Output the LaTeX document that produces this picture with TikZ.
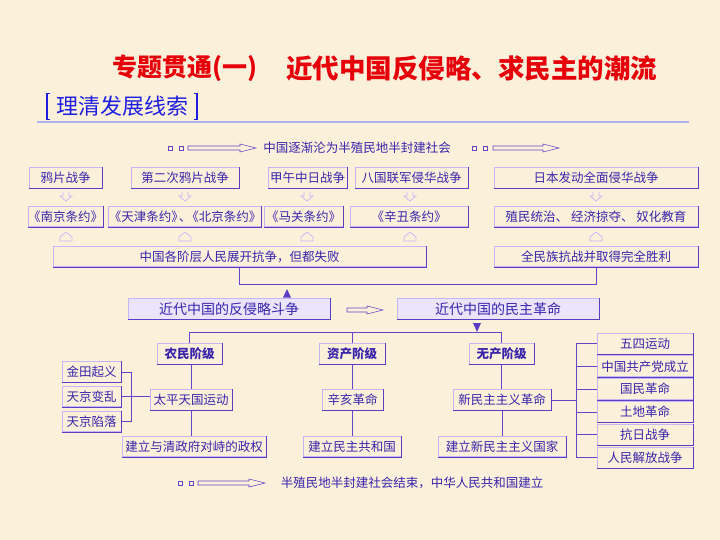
\documentclass[tikz,border=0pt]{standalone}
\usepackage{fontspec}
\newfontfamily\cjk{Noto Sans CJK SC}
\usetikzlibrary{arrows.meta}
\definecolor{bg}{RGB}{251,241,219}
\definecolor{boxlt}{RGB}{196,182,248}
\definecolor{boxdk}{RGB}{92,62,196}
\definecolor{txt}{RGB}{58,36,170}
\definecolor{lnc}{RGB}{96,70,200}
\definecolor{lav}{RGB}{234,228,252}
\definecolor{ttl}{RGB}{230,0,10}
\definecolor{hdb}{RGB}{30,30,225}
\definecolor{hline}{RGB}{176,176,240}
\tikzset{
  bx/.style={draw=boxlt, line width=0.9pt, text=txt, inner sep=0pt, minimum height=20.5pt,
    font=\cjk\fontsize{12.5}{12.5}\selectfont},
  bxt/.style={bx},
  bxb/.style={bx, font=\cjk\bfseries\fontsize{12.5}{12.5}\selectfont},
  bxl/.style={bx, fill=lav, font=\cjk\fontsize{14}{14}\selectfont},
  plain/.style={text=txt, inner sep=0pt, font=\cjk\fontsize{12.5}{12.5}\selectfont},
  conn/.style={draw=lnc, line width=0.8pt},
  hol/.style={draw=boxlt, line width=0.7pt},
  dbl/.style={draw=lnc, line width=0.6pt},
}
\newcommand{\dnarrow}[2]{\draw[hol] (#1-3,#2-4) -- (#1-3,#2) -- (#1-6,#2) -- (#1,#2+5) -- (#1+6,#2) -- (#1+3,#2) -- (#1+3,#2-4);}
\newcommand{\uparrowh}[2]{\draw[hol] (#1-6,#2+4) -- (#1-6,#2) -- (#1,#2-5) -- (#1+6,#2) -- (#1+6,#2+4) -- cycle;}
\newcommand{\dblarrow}[3]{%
  \draw[dbl] (#1,#3-2) -- (#2-16,#3-2) -- (#2-16,#3-4) -- (#2,#3) -- (#2-16,#3+4) -- (#2-16,#3+2) -- (#1,#3+2) -- cycle;}
\newcommand{\sq}[2]{\draw[dbl] (#1-2,#2-2) rectangle (#1+2,#2+2);}
\begin{document}
\begin{tikzpicture}[x=1pt,y=-1pt]
\fill[bg] (0,0) rectangle (720,540);
\useasboundingbox (0,0) rectangle (720,540);
% title
\node[anchor=west, text=ttl, inner sep=0pt, font=\cjk\bfseries\fontsize{25}{25}\selectfont] (t1) at (112,68) {专题贯通(一)};
\node[anchor=west, text=ttl, inner sep=0pt, font=\cjk\bfseries\fontsize{26.5}{26.5}\selectfont] (t2) at (286,68) {近代中国反侵略、求民主的潮流};
\node[anchor=west, text=hdb, inner sep=0pt, font=\cjk\fontsize{22}{22}\selectfont] (hd) at (56,106) {理清发展线索};
\draw[hdb, line width=1.8pt] (50,93.5) -- (47,93.5) -- (47,119.5) -- (50,119.5);
\draw[hdb, line width=1.8pt] (194,93.5) -- (197,93.5) -- (197,119.5) -- (194,119.5);
\draw[hline, line width=1.6pt] (37,122) -- (689,122);
% top arrow row
\sq{170}{148}\sq{181}{148}
\dblarrow{188}{256}{148}
\node[plain] (top) at (357,148) {中国逐渐沦为半殖民地半封建社会};
\sq{474}{148}\sq{485}{148}
\dblarrow{493}{559}{148}
% row 1
\node[bx, minimum width=73pt] (b1) at (65.5,178) {鸦片战争};
\node[bx, minimum width=108pt] (b2) at (185,178) {第二次鸦片战争};
\node[bx, minimum width=79pt] (b3) at (307.5,178) {甲午中日战争};
\node[bx, minimum width=113pt] (b4) at (411.5,178) {八国联军侵华战争};
\node[bx, minimum width=204pt] (b5) at (596,178) {日本发动全面侵华战争};
% row 2
\node[bxt, minimum width=73pt] (c1) at (65.5,216.5) {《南京条约》};
\node[bxt, minimum width=148pt] (c2) at (185,216.5) {《天津条约》\hspace{-5pt}、\hspace{-5pt}《北京条约》};
\node[bxt, minimum width=79pt] (c3) at (303.5,216.5) {《马关条约》};
\node[bxt, minimum width=118pt] (c4) at (409,216.5) {《辛丑条约》};
\node[bx, minimum width=204pt] (c5) at (596,216.5) {殖民统治、\ 经济掠夺、\ 奴化教育};
% row 3
\node[bx, minimum width=373pt] (d1) at (239.5,256.5) {中国各阶层人民展开抗争，但都失败};
\node[bx, minimum width=204pt] (d2) at (596,256.5) {全民族抗战并取得完全胜利};
% hollow arrows
\foreach \xx in {66,185,307,410,596} {\dnarrow{\xx}{196}\uparrowh{\xx}{237}}
% connector rows
\draw[conn] (d1.south) -- ++(0,17.5) coordinate (jl) -| (d2.south);
\node[bxl, minimum width=202pt] (e1) at (229,309) {近代中国的反侵略斗争};
\node[bxl, minimum width=202pt] (e2) at (498,309) {近代中国的民主革命};
\fill[boxdk] (287,289) -- (283,297.5) -- (291,297.5) -- cycle;
\dblarrow{347}{383}{310}
\fill[boxdk] (473,323) -- (481,323) -- (477,332) -- cycle;
% class boxes
\node[bxb, minimum width=65pt] (f1) at (189.5,354) {农民阶级};
\node[bxb, minimum width=66pt] (f2) at (352,354) {资产阶级};
\node[bxb, minimum width=65pt] (f3) at (501.5,354) {无产阶级};
\draw[conn] (f1.north) -- ++(0,-10.5) coordinate (hl) -- (hl -| f3.north) -- (f3.north);
\draw[conn] (f2.north) -- (f2.north |- hl);
\node[bx, minimum width=82pt] (g1) at (191,400) {太平天国运动};
\node[bx, minimum width=61pt] (g2) at (352.5,400) {辛亥革命};
\node[bx, minimum width=98pt] (g3) at (502,400) {新民主主义革命};
\node[bx, minimum width=144pt] (h1) at (194,446.5) {建立与清政府对峙的政权};
\node[bx, minimum width=98pt] (h2) at (352,446.5) {建立民主共和国};
\node[bx, minimum width=128pt] (h3) at (502,446.5) {建立新民主主义国家};
\draw[conn] (f1.south -| g1.north) -- (g1.north);
\draw[conn] (g1.south) -- (g1.south |- h1.north);
\draw[conn] (f2.south) -- (f2.south |- g2.north);
\draw[conn] (g2.south) -- (g2.south |- h2.north);
\draw[conn] (f3.south) -- (f3.south |- g3.north);
\draw[conn] (g3.south) -- (g3.south |- h3.north);
% left boxes
\node[bx, minimum width=59pt] (l1) at (91.5,372) {金田起义};
\node[bx, minimum width=59pt] (l2) at (91.5,396.5) {天京变乱};
\node[bx, minimum width=59pt] (l3) at (91.5,421.5) {天京陷落};
\draw[conn] (l1.east) -- ++(10,0) coordinate (lb1) -- (lb1 |- l3.east) -- (l3.east);
\draw[conn] (l2.east) -- (l2.east -| g1.west);
% right boxes
\foreach \n/\t/\yy in {r1/五四运动/343.5, r2/中国共产党成立/366.3, r3/国民革命/389.1, r4/土地革命/411.9, r5/抗日战争/434.7, r6/人民解放战争/457.5}
  {\node[bx, minimum width=96pt, minimum height=21pt] (\n) at (645,\yy) {\t};}
\coordinate (rb) at (576,400);
\draw[conn] (g3.east) -- (rb);
\draw[conn] (rb |- r1.west) -- (rb |- r6.west);
\foreach \n in {r1,r2,r3,r4,r5,r6} {\draw[conn] (rb |- \n.west) -- (\n.west);}
% bevel (dark bottom/right edges)
\foreach \n in {b1,b2,b3,b4,b5,c1,c2,c3,c4,c5,d1,d2,e1,e2,f1,f2,f3,g1,g2,g3,h1,h2,h3,l1,l2,l3,r1,r2,r3,r4,r5,r6}
  {\draw[boxdk, line width=0.9pt] (\n.south west) -- (\n.south east) -- (\n.north east);}
% bottom arrow row
\sq{180}{483}\sq{191}{483}
\dblarrow{198}{265}{483}
\node[plain] (bot) at (412,483) {半殖民地半封建社会结束，中华人民共和国建立};
\end{tikzpicture}
\end{document}
